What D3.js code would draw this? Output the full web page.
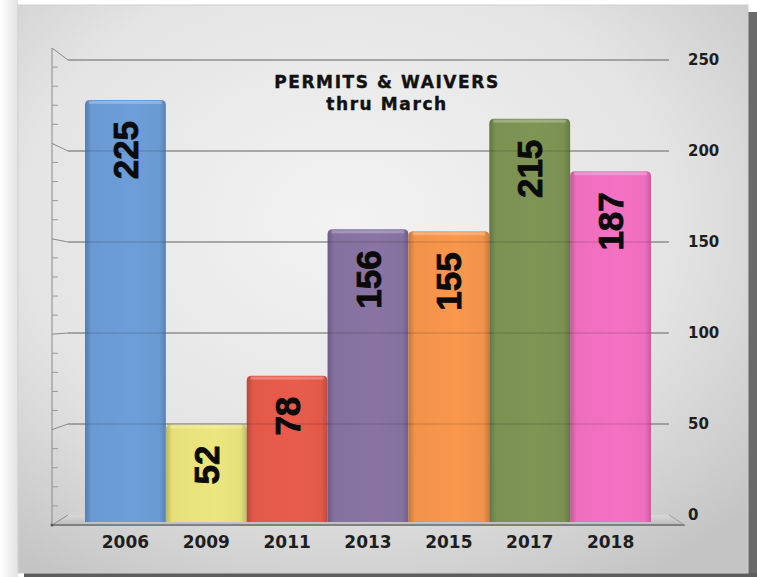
<!DOCTYPE html>
<html>
<head>
<meta charset="utf-8">
<script src="https://cdn.jsdelivr.net/npm/d3@7"></script>
<style>
  body { margin: 0; background: #fff; }
  svg { display: block; }
</style>
</head>
<body>
<script>
var w = 757;
var h = 577;

var years = ["2006", "2009", "2011", "2013", "2015", "2017", "2018"];
var permits = [225, 52, 78, 156, 155, 215, 187];
var barColors = ["#6a9ad2", "#e6e07a", "#e2594a", "#85719f", "#f2934a", "#7b9152", "#ee6ebe"];
var yTicks = [0, 50, 100, 150, 200, 250];

// back wall, left wall edge and bar front use slightly different scales (3d look)
var yBack = d3.scaleLinear().domain([0, 250]).range([515, 60]);
var yLeft = d3.scaleLinear().domain([0, 250]).range([525, 48]);
var yBar = d3.scaleLinear().domain([0, 250]).range([522, 53]);
var x = d3.scaleBand().domain(years).range([85, 651]).padding(0);

var svg = d3.select("body")
      .append("svg")
      .attr("width", w)
      .attr("height", h);

var defs = svg.append("defs");

var bg = defs.append("radialGradient").attr("id", "bg")
      .attr("cx", "45%").attr("cy", "38%").attr("r", "75%");
bg.append("stop").attr("offset", "0%").attr("stop-color", "#f3f3f3");
bg.append("stop").attr("offset", "60%").attr("stop-color", "#e4e4e4");
bg.append("stop").attr("offset", "100%").attr("stop-color", "#c4c4c4");

var leftShade = defs.append("linearGradient").attr("id", "leftShade");
leftShade.append("stop").attr("offset", "0%").attr("stop-color", "#ffffff");
leftShade.append("stop").attr("offset", "100%").attr("stop-color", "#e2e2e2");

var floorGrad = defs.append("linearGradient").attr("id", "floorGrad")
      .attr("x1", 0).attr("y1", 0).attr("x2", 0).attr("y2", 1);
floorGrad.append("stop").attr("offset", "0%").attr("stop-color", "#d8d8d8");
floorGrad.append("stop").attr("offset", "100%").attr("stop-color", "#bcbcbc");

// bar shading: dark edges, lighter middle
barColors.forEach(function(c, i) {
  var g = defs.append("linearGradient").attr("id", "bar" + i);
  var base = d3.color(c);
  g.append("stop").attr("offset", "0%").attr("stop-color", base.darker(0.6));
  g.append("stop").attr("offset", "8%").attr("stop-color", base);
  g.append("stop").attr("offset", "60%").attr("stop-color", base.brighter(0.08));
  g.append("stop").attr("offset", "92%").attr("stop-color", base);
  g.append("stop").attr("offset", "100%").attr("stop-color", base.darker(0.5));
});

// page / card
svg.append("rect").attr("x", 0).attr("y", 0).attr("width", 18).attr("height", h)
   .attr("fill", "url(#leftShade)");
svg.append("rect").attr("x", 748).attr("y", 12).attr("width", 9).attr("height", h)
   .attr("fill", "#6a6a6a");
svg.append("rect").attr("x", 24).attr("y", 573).attr("width", w).attr("height", 4)
   .attr("fill", "#5e5e5e");
svg.append("rect").attr("x", 18).attr("y", 5).attr("width", 730).attr("height", 568)
   .attr("fill", "url(#bg)")
   .attr("stroke", "#d0d0d0").attr("stroke-width", 1);

// floor
var x0 = 52, x1 = 68, x2 = 669, x3 = 685;
svg.append("polygon")
   .attr("points", [[x0, yLeft(0)], [x1, yBack(0)], [x2, yBack(0)], [x3, yLeft(0)]].join(" "))
   .attr("fill", "url(#floorGrad)");
svg.append("line")
   .attr("x1", x0).attr("x2", x3).attr("y1", yLeft(0)).attr("y2", yLeft(0))
   .attr("stroke", "#808080").attr("stroke-width", 2);

// gridlines on back wall + diagonal to left axis
var gridVals = yTicks.filter(function(d) { return d > 0; });
var grid = svg.append("g");
grid.selectAll("line.g")
   .data(gridVals)
   .enter().append("line")
   .attr("x1", x1).attr("x2", x2)
   .attr("y1", function(d) { return yBack(d); })
   .attr("y2", function(d) { return yBack(d); })
   .attr("stroke", "#848484").attr("stroke-width", 1);
grid.selectAll("line.d")
   .data(yTicks)
   .enter().append("line")
   .attr("x1", x0).attr("x2", x1)
   .attr("y1", function(d) { return yLeft(d); })
   .attr("y2", function(d) { return yBack(d); })
   .attr("stroke", "#8a8a8a").attr("stroke-width", 1);
svg.append("line")
   .attr("x1", x2).attr("x2", x3).attr("y1", yBack(0)).attr("y2", yLeft(0))
   .attr("stroke", "#a0a0a0");

// left axis with minor ticks every 10
svg.append("line")
   .attr("x1", x0).attr("x2", x0).attr("y1", yLeft(250)).attr("y2", yLeft(0))
   .attr("stroke", "#8a8a8a");
svg.append("g").selectAll("line")
   .data(d3.range(10, 250, 10).filter(function(d) { return d % 50 !== 0; }))
   .enter().append("line")
   .attr("x1", x0).attr("x2", x0 + 6)
   .attr("y1", function(d) { return yLeft(d); })
   .attr("y2", function(d) { return yLeft(d); })
   .attr("stroke", "#9a9a9a");
svg.append("circle").attr("cx", x0).attr("cy", yLeft(0)).attr("r", 1.5).attr("fill", "#555");

// right tick labels
svg.append("g")
   .attr("transform", "translate(688,0)")
   .call(d3.axisRight(yBack).tickValues(yTicks).tickSize(0).tickPadding(0))
   .call(function(g) { g.select(".domain").remove(); })
   .selectAll("text")
   .attr("font-family", "DejaVu Sans")
   .attr("font-weight", "bold")
   .attr("font-size", "15px")
   .attr("fill", "#1e1e1e")
   .attr("text-anchor", "start");

// bars
svg.selectAll("path.bar")
   .data(permits)
   .enter()
   .append("path")
   .attr("class", "bar")
   .attr("d", function(d, i) {
      var bx = x(years[i]), bw = x.bandwidth(), top = yBar(d), bot = yBar(0), r = 5;
      return "M" + bx + "," + bot +
             "V" + (top + r) +
             "Q" + bx + "," + top + " " + (bx + r) + "," + top +
             "H" + (bx + bw - r) +
             "Q" + (bx + bw) + "," + top + " " + (bx + bw) + "," + (top + r) +
             "V" + bot + "Z";
   })
   .attr("fill", function(d, i) { return "url(#bar" + i + ")"; });

// light top rim of each bar
svg.selectAll("rect.rim")
   .data(permits)
   .enter()
   .append("rect")
   .attr("x", function(d, i) { return x(years[i]) + 4; })
   .attr("y", function(d) { return yBar(d) + 1; })
   .attr("width", x.bandwidth() - 8)
   .attr("height", 3)
   .attr("fill", "#ffffff")
   .attr("opacity", 0.25);

// gridlines faintly visible through the bars
svg.append("g").selectAll("line")
   .data(gridVals)
   .enter().append("line")
   .attr("x1", x1).attr("x2", x2)
   .attr("y1", function(d) { return yBack(d); })
   .attr("y2", function(d) { return yBack(d); })
   .attr("stroke", "#000").attr("opacity", 0.18);

// value labels, rotated
svg.selectAll("text.val")
   .data(permits)
   .enter()
   .append("text")
   .attr("class", "val")
   .attr("transform", function(d, i) {
      return "translate(" + (x(years[i]) + x.bandwidth() / 2) + "," + (yBar(d) + 21) + ") rotate(-90)";
   })
   .attr("dy", "0.36em")
   .attr("text-anchor", "end")
   .attr("font-family", "Liberation Sans, Arial, sans-serif")
   .attr("font-weight", "bold")
   .attr("font-size", "35px")
   .attr("stroke", "#0a0a0a")
   .attr("stroke-width", 0.8)
   .attr("fill", "#0a0a0a")
   .text(function(d) { return d; });

// category labels
svg.append("g")
   .attr("transform", "translate(0,535)")
   .call(d3.axisBottom(x).tickSize(0).tickPadding(0))
   .call(function(g) { g.select(".domain").remove(); })
   .selectAll("text")
   .attr("dy", "0.78em")
   .attr("font-family", "DejaVu Sans")
   .attr("font-weight", "bold")
   .attr("font-size", "17px")
   .attr("fill", "#1e1e1e");

// title
var title = svg.append("text")
   .attr("x", 387)
   .attr("y", 88)
   .attr("text-anchor", "middle")
   .attr("font-family", "DejaVu Sans")
   .attr("font-weight", "bold")
   .attr("font-size", "17px")
   .attr("letter-spacing", "1.6px")
   .attr("stroke", "#111")
   .attr("stroke-width", 0.4)
   .attr("fill", "#111");
title.append("tspan").attr("x", 387).text("PERMITS & WAIVERS");
title.append("tspan").attr("x", 387).attr("dy", 22).text("thru March");
</script>
</body>
</html>
